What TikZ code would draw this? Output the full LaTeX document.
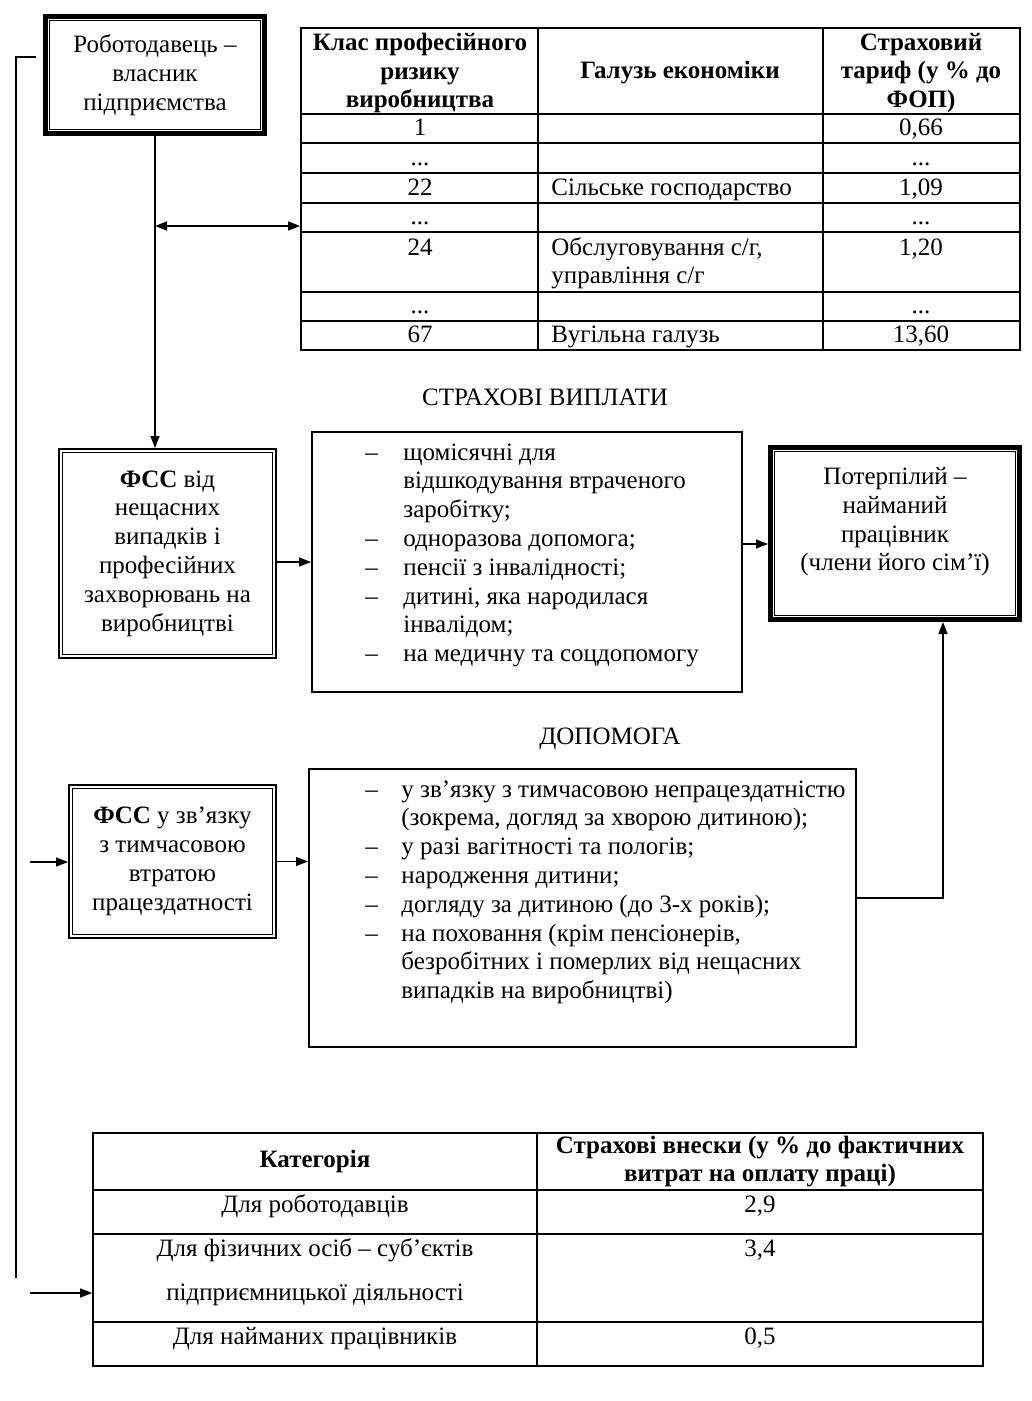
\documentclass[tikz,border=0pt]{standalone}
\usepackage{fontspec}
\setmainfont{Liberation Serif}
\usetikzlibrary{arrows.meta,positioning,calc}
\newcommand{\dts}{...}
\tikzset{
  every node/.style={font=\fontsize{12.5pt}{14.4pt}\selectfont},
  heavybox/.style={draw,line width=2.5pt,align=center,inner sep=2pt,
    path picture={\draw[line width=0.7pt] ([shift={(2.1pt,-2.1pt)}]path picture bounding box.north west) rectangle ([shift={(-2.1pt,2.1pt)}]path picture bounding box.south east);}},
  fundbox/.style={draw,line width=1pt,align=center,inner sep=2pt,
    path picture={\draw[line width=0.5pt] ([shift={(1.9pt,-1.9pt)}]path picture bounding box.north west) rectangle ([shift={(-1.9pt,1.9pt)}]path picture bounding box.south east);}},
  listbox/.style={draw,line width=1pt,inner sep=0pt},
  tblframe/.style={draw,line width=0.9pt,inner sep=0pt},
  tblrule/.style={line width=0.6pt},
  arr/.style={-{Triangle[length=6pt,width=4.5pt]},line width=0.75pt},
  darr/.style={{Triangle[length=6pt,width=4.5pt]}-{Triangle[length=6pt,width=4.5pt]},line width=0.75pt},
  tcell/.style={anchor=base,inner sep=0pt},
  hcell/.style={align=center,inner sep=0pt,font=\fontsize{12.5pt}{14.4pt}\selectfont\bfseries},
}

\begin{document}
\begin{tikzpicture}[x=0.5pt,y=-0.5pt]
\useasboundingbox (0,0) rectangle (1032,1401);
% employer and victim
\node[heavybox,minimum width=109.5pt,minimum height=58.5pt] (boss) at (155,75) {Роботодавець –\\власник\\підприємства};
\node[heavybox,minimum width=124.5pt,minimum height=86pt] (victim) at (895,533.5) {Потерпілий –\\найманий\\працівник\\(члени його сім’ї)\\\mbox{}};
% funds
\node[fundbox,minimum width=108.5pt,minimum height=104.5pt] (fssA) at (167.5,553.5) {\textbf{ФСС} від\\нещасних\\випадків і\\професійних\\захворювань на\\виробництві};
\node[fundbox,minimum width=103.5pt,minimum height=76.5pt] (fssB) at (172.5,861.5) {\textbf{ФСС} у зв’язку\\з тимчасовою\\втратою\\працездатності};
% payments
\node[anchor=base] (paytitle) at (545,405) {СТРАХОВІ ВИПЛАТИ};
\node[listbox,minimum width=215pt,minimum height=130pt] (pay) at (527,562) {};
\node[anchor=base west,inner sep=0pt] (paytxt) at (365,460) {\begin{tabular}[t]{@{}p{19pt}@{}l@{}}
– & щомісячні для\\
  & відшкодування втраченого\\
  & заробітку;\\
– & одноразова допомога;\\
– & пенсії з інвалідності;\\
– & дитині, яка народилася\\
  & інвалідом;\\
– & на медичну та соцдопомогу
\end{tabular}};
\node[anchor=base] (helptitle) at (610,744) {ДОПОМОГА};
\node[listbox,minimum width=273.5pt,minimum height=139pt] (help) at (582.5,908) {};
\node[anchor=base west,inner sep=0pt] (helptxt) at (365,797) {\begin{tabular}[t]{@{}p{18pt}@{}l@{}}
– & у зв’язку з тимчасовою непрацездатністю\\
  & (зокрема, догляд за хворою дитиною);\\
– & у разі вагітності та пологів;\\
– & народження дитини;\\
– & догляду за дитиною (до 3-х років);\\
– & на поховання (крім пенсіонерів,\\
  & безробітних і померлих від нещасних\\
  & випадків на виробництві)
\end{tabular}};
% tariff table
\node[tblframe,minimum width=359.5pt,minimum height=161pt] (tarif) at (660.5,189) {};
\draw[tblrule] (538,28) -- (538,350);
\draw[tblrule] (823,28) -- (823,350);
\foreach \y in {114,143,173,203,292,321} \draw[tblrule] (301,\y) -- (1020,\y);
\draw[line width=1pt] (301,232) -- (1020,232);
\node[hcell] (h1) at (420,73) {Клас професійного\\ризику\\виробництва};
\node[hcell] (h2) at (680,73) {Галузь економіки};
\node[hcell] (h3) at (921,73) {Страховий\\тариф (у \% до\\ФОП)};
\foreach \c/\g/\t/\y [count=\k] in {1/{}/{0,66}/136, \dts/{}/\dts/166,
  22/{Сільське господарство}/{1,09}/196, \dts/{}/\dts/225,
  24/{Обслуговування с/г,}/{1,20}/256, \dts/{}/\dts/314,
  67/{Вугільна галузь}/{13,60}/343}{
  \node[tcell] (c\k) at (420,\y) {\c};
  \node[tcell,anchor=base west] (g\k) at (551,\y) {\g};
  \node[tcell] (t\k) at (921,\y) {\t};}
\node[tcell,anchor=base west] (g5b) at (551,284) {управління с/г};
% contributions table
\node[tblframe,minimum width=445pt,minimum height=116.5pt] (contrib) at (538,1249.5) {};
\draw[tblrule] (537,1133) -- (537,1366);
\foreach \y in {1190,1234,1322} \draw[tblrule] (93,\y) -- (983,\y);
\node[hcell] (k1) at (315,1161.5) {Категорія};
\node[hcell] (k2) at (760,1161.5) {Страхові внески (у \% до фактичних\\витрат на оплату праці)};
\foreach \a/\b/\y [count=\k] in {{Для роботодавців}/{2,9}/1212,
  {Для фізичних осіб – суб’єктів}/{3,4}/1256, {Для найманих працівників}/{0,5}/1344}{
  \node[tcell] (r\k) at (315,\y) {\a};
  \node[tcell] (v\k) at (760,\y) {\b};}
\node[tcell] (r2b) at (315,1300) {підприємницької діяльності};
% flows
\coordinate (tap) at (155,226);
\draw[arr] (boss.south) -- (boss.south |- fssA.north);
\draw[darr] (tap) -- (tap -| tarif.west);
\draw[arr] (fssA.east |- pay.west) -- (pay.west);
\draw[arr] ([yshift=9pt]pay.east) -- ([yshift=9pt]pay.east -| victim.west);
\draw[arr] (fssB.east) -- (fssB.east -| help.west);
\draw[arr] ([yshift=5pt]help.east) -| ([xshift=24pt]victim.south);
% left feed line
\coordinate (lnTop) at (36,57);
\coordinate (lnBend) at (16,57);
\coordinate (lnEnd) at (16,1278);
\draw[line width=0.75pt] (lnTop) -- (lnBend) -- (lnEnd);
\coordinate (inHelp) at (30,862);
\draw[arr] (inHelp) -- (inHelp -| fssB.west);
\coordinate (inContrib) at (30,1293);
\draw[arr] (inContrib) -- (inContrib -| contrib.west);
\end{tikzpicture}
\end{document}
